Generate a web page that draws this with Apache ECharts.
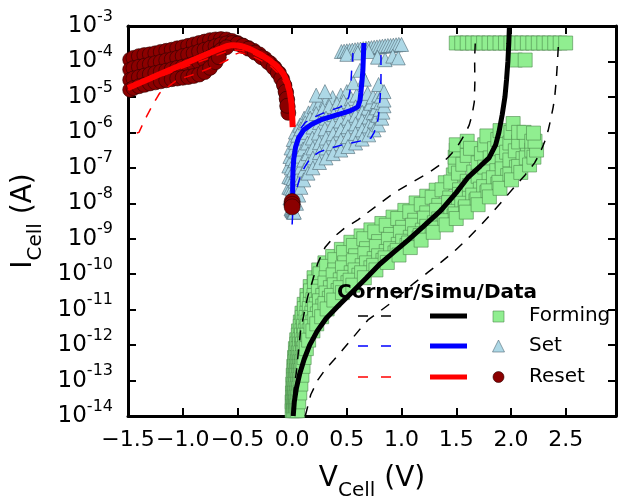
<!DOCTYPE html>
<html><head><meta charset="utf-8">
<script src="https://cdn.jsdelivr.net/npm/echarts@6/dist/echarts.min.js"></script>
<style>html,body{margin:0;padding:0;background:#fff}#c{width:621px;height:496px}</style>
</head><body><div id="c"></div>
<script>
// ---- data: [V_cell (V), log10(I_cell / A)] ----
const xRange = [-1.5, 2.96];
const yExpRange = [-14, -3];
const legendLabels = ['Forming', 'Set', 'Reset'];
const legendTitle = 'Corner/Simu/Data';

const formingTrace1 = [[0.0,-13.85],[0.0,-13.6],[0.003,-13.35],[0.006,-13.1],[0.01,-12.85],[0.015,-12.6],[0.022,-12.35],[0.03,-12.1],[0.042,-11.85],[0.058,-11.6],[0.075,-11.35],[0.09,-11.1],[0.11,-10.85],[0.135,-10.6],[0.165,-10.35],[0.2,-10.1],[0.243,-9.88],[0.3,-9.68],[0.37,-9.5],[0.45,-9.3],[0.537,-9.1],[0.63,-8.92],[0.72,-8.75],[0.82,-8.57],[0.922,-8.39],[1.03,-8.2],[1.133,-7.99],[1.23,-7.8],[1.317,-7.63],[1.4,-7.42],[1.473,-7.2],[1.49,-6.95],[1.49,-6.7],[1.5,-6.5],[1.5,-6.35],[1.6,-6.25]];
const formingTrace1b = [[0.006,-13.72],[0.008,-13.47],[0.012,-13.22],[0.016,-12.97],[0.02,-12.72],[0.026,-12.47],[0.034,-12.22],[0.043,-11.97],[0.056,-11.72],[0.074,-11.47],[0.092,-11.22],[0.112,-10.97],[0.138,-10.72],[0.168,-10.47],[0.205,-10.22],[0.255,-9.99],[0.315,-9.78],[0.39,-9.59],[0.47,-9.39],[0.56,-9.19],[0.655,-9.0],[0.755,-8.81],[0.86,-8.62],[0.965,-8.43],[1.075,-8.24],[1.18,-8.03],[1.28,-7.83],[1.37,-7.62],[1.45,-7.4],[1.52,-7.15],[1.56,-6.9],[1.6,-6.65],[1.63,-6.45]];
const formingTrace2 = [[0.012,-13.85],[0.015,-13.6],[0.02,-13.35],[0.025,-13.1],[0.03,-12.85],[0.037,-12.6],[0.045,-12.35],[0.055,-12.1],[0.07,-11.85],[0.09,-11.6],[0.11,-11.35],[0.135,-11.1],[0.165,-10.85],[0.2,-10.6],[0.25,-10.35],[0.31,-10.1],[0.39,-9.88],[0.48,-9.68],[0.58,-9.48],[0.68,-9.28],[0.79,-9.08],[0.9,-8.88],[1.01,-8.68],[1.12,-8.48],[1.23,-8.27],[1.34,-8.06],[1.44,-7.85],[1.53,-7.62],[1.6,-7.38],[1.66,-7.12],[1.7,-6.86],[1.73,-6.6],[1.76,-6.35],[1.78,-6.1]];
const formingTrace2b = [[0.018,-13.72],[0.022,-13.47],[0.028,-13.22],[0.034,-12.97],[0.04,-12.72],[0.048,-12.47],[0.057,-12.22],[0.07,-11.97],[0.085,-11.72],[0.105,-11.47],[0.127,-11.22],[0.157,-10.97],[0.19,-10.72],[0.24,-10.48],[0.3,-10.25],[0.375,-10.02],[0.46,-9.82],[0.56,-9.62],[0.665,-9.42],[0.77,-9.22],[0.88,-9.02],[0.99,-8.82],[1.1,-8.62],[1.21,-8.42],[1.32,-8.2],[1.43,-7.98],[1.53,-7.75],[1.62,-7.5],[1.7,-7.24],[1.76,-6.98],[1.81,-6.72],[1.85,-6.46],[1.88,-6.2],[1.9,-5.95]];
const formingTrace3 = [[0.025,-13.85],[0.03,-13.6],[0.037,-13.35],[0.045,-13.1],[0.052,-12.85],[0.06,-12.6],[0.07,-12.35],[0.085,-12.1],[0.1,-11.85],[0.12,-11.6],[0.145,-11.35],[0.18,-11.1],[0.22,-10.85],[0.28,-10.6],[0.35,-10.38],[0.44,-10.16],[0.54,-9.96],[0.64,-9.76],[0.75,-9.56],[0.86,-9.36],[0.97,-9.16],[1.08,-8.96],[1.19,-8.76],[1.3,-8.55],[1.41,-8.33],[1.52,-8.1],[1.62,-7.86],[1.72,-7.6],[1.8,-7.34],[1.87,-7.08],[1.92,-6.82],[1.96,-6.56],[1.99,-6.3],[2.0,-6.0],[2.02,-5.75]];
const formingTrace3b = [[0.031,-13.72],[0.037,-13.47],[0.045,-13.22],[0.053,-12.97],[0.061,-12.72],[0.07,-12.47],[0.08,-12.22],[0.095,-11.97],[0.112,-11.72],[0.137,-11.47],[0.167,-11.22],[0.205,-10.98],[0.25,-10.75],[0.31,-10.53],[0.385,-10.3],[0.475,-10.09],[0.575,-9.88],[0.68,-9.68],[0.79,-9.48],[0.9,-9.28],[1.01,-9.07],[1.12,-8.86],[1.23,-8.65],[1.34,-8.44],[1.45,-8.23],[1.55,-8.0],[1.65,-7.77],[1.75,-7.53],[1.84,-7.28],[1.92,-7.03],[1.99,-6.78],[2.04,-6.52],[2.07,-6.27],[2.07,-6.0]];
const formingTrace4 = [[0.037,-13.85],[0.045,-13.6],[0.053,-13.35],[0.062,-13.1],[0.07,-12.85],[0.08,-12.6],[0.09,-12.35],[0.105,-12.1],[0.125,-11.85],[0.155,-11.6],[0.19,-11.35],[0.23,-11.12],[0.28,-10.9],[0.34,-10.68],[0.42,-10.46],[0.51,-10.24],[0.61,-10.03],[0.72,-9.82],[0.83,-9.61],[0.94,-9.4],[1.05,-9.19],[1.16,-8.98],[1.27,-8.77],[1.38,-8.56],[1.48,-8.36],[1.58,-8.15],[1.68,-7.93],[1.78,-7.7],[1.88,-7.46],[1.97,-7.22],[2.05,-6.98],[2.11,-6.74],[2.15,-6.5],[2.14,-6.25],[2.12,-6.0]];
const formingTrace4b = [[0.043,-13.72],[0.052,-13.47],[0.061,-13.22],[0.071,-12.97],[0.08,-12.72],[0.09,-12.47],[0.1,-12.22],[0.117,-11.97],[0.138,-11.72],[0.172,-11.48],[0.207,-11.25],[0.25,-11.04],[0.3,-10.83],[0.36,-10.6],[0.44,-10.38],[0.53,-10.17],[0.635,-9.96],[0.745,-9.75],[0.85,-9.54],[0.96,-9.33],[1.065,-9.12],[1.17,-8.91],[1.28,-8.7],[1.395,-8.49],[1.49,-8.3],[1.585,-8.1],[1.69,-7.88],[1.79,-7.65],[1.89,-7.41],[1.99,-7.18],[2.07,-6.96],[2.14,-6.72],[2.19,-6.5],[2.19,-6.25]];
const formingTrace5 = [[0.05,-13.85],[0.06,-13.6],[0.07,-13.35],[0.08,-13.1],[0.09,-12.85],[0.1,-12.6],[0.11,-12.35],[0.13,-12.1],[0.151,-11.86],[0.19,-11.6],[0.225,-11.4],[0.27,-11.2],[0.32,-10.98],[0.381,-10.73],[0.46,-10.52],[0.555,-10.31],[0.66,-10.1],[0.766,-9.88],[0.87,-9.67],[0.977,-9.46],[1.08,-9.25],[1.179,-9.04],[1.29,-8.82],[1.408,-8.61],[1.5,-8.43],[1.592,-8.25],[1.7,-8.04],[1.803,-7.82],[1.9,-7.58],[2.005,-7.34],[2.09,-7.13],[2.17,-6.92],[2.21,-6.7],[2.234,-6.5],[2.22,-6.25],[2.206,-6.02]];
const formingTop = [[1.5,-3.48],[1.55,-3.48],[1.6,-3.48],[1.65,-3.48],[1.7,-3.48],[1.75,-3.48],[1.8,-3.48],[1.85,-3.48],[1.9,-3.48],[1.95,-3.48],[2.0,-3.48],[2.05,-3.48],[2.1,-3.48],[2.15,-3.48],[2.2,-3.48],[2.25,-3.48],[2.3,-3.48],[2.35,-3.48],[2.4,-3.48],[2.45,-3.48],[2.5,-3.48],[2.04,-3.96],[2.13,-3.96]];

const setTrace1 = [[-0.01,-8.15],[-0.02,-7.85],[-0.03,-7.55],[-0.03,-7.25],[-0.03,-6.95],[-0.02,-6.68],[-0.01,-6.44],[0.01,-6.2],[0.03,-5.99],[0.07,-5.8],[0.11,-5.6],[0.15,-5.45],[0.2,-5.28],[0.25,-5.18],[0.31,-5.09],[0.37,-5.02],[0.445,-4.95],[0.5,-4.85]];
const setTrace1b = [[-0.005,-8.17],[-0.01,-7.87],[-0.015,-7.57],[-0.012,-7.27],[-0.008,-7.0],[0.0,-6.74],[0.012,-6.5],[0.03,-6.28],[0.05,-6.08],[0.08,-5.9],[0.12,-5.73],[0.165,-5.6],[0.22,-5.47],[0.28,-5.36],[0.34,-5.27],[0.41,-5.2],[0.47,-5.13],[0.54,-5.05],[0.59,-4.95]];
const setTrace2 = [[0.0,-8.2],[0.0,-7.9],[0.0,-7.6],[0.01,-7.3],[0.014,-7.06],[0.025,-6.8],[0.04,-6.55],[0.065,-6.35],[0.096,-6.16],[0.14,-6.0],[0.19,-5.85],[0.25,-5.72],[0.31,-5.6],[0.38,-5.5],[0.445,-5.43],[0.51,-5.35],[0.58,-5.28],[0.63,-5.18],[0.67,-5.09],[0.69,-4.9]];
const setTrace2b = [[0.005,-8.22],[0.01,-7.92],[0.015,-7.64],[0.025,-7.37],[0.035,-7.13],[0.05,-6.89],[0.07,-6.67],[0.1,-6.47],[0.14,-6.3],[0.185,-6.16],[0.24,-6.02],[0.3,-5.9],[0.37,-5.78],[0.44,-5.68],[0.51,-5.6],[0.58,-5.52],[0.64,-5.43],[0.69,-5.32],[0.72,-5.18],[0.74,-5.0]];
const setTrace3 = [[0.01,-8.25],[0.02,-7.95],[0.03,-7.68],[0.045,-7.44],[0.06,-7.2],[0.08,-6.98],[0.106,-6.78],[0.145,-6.6],[0.19,-6.44],[0.25,-6.29],[0.31,-6.16],[0.375,-6.04],[0.445,-5.93],[0.51,-5.84],[0.58,-5.76],[0.64,-5.67],[0.7,-5.57],[0.74,-5.45],[0.77,-5.31],[0.78,-5.13],[0.79,-4.95]];
const setTrace3b = [[0.015,-8.25],[0.03,-7.98],[0.045,-7.72],[0.062,-7.5],[0.083,-7.27],[0.11,-7.06],[0.145,-6.88],[0.19,-6.72],[0.25,-6.57],[0.31,-6.44],[0.375,-6.32],[0.445,-6.22],[0.51,-6.12],[0.58,-6.03],[0.64,-5.93],[0.7,-5.82],[0.75,-5.68],[0.785,-5.52],[0.805,-5.35],[0.81,-5.15],[0.815,-4.98]];
const setTrace4 = [[0.02,-8.25],[0.04,-8.0],[0.06,-7.77],[0.08,-7.55],[0.106,-7.34],[0.145,-7.15],[0.19,-7.0],[0.25,-6.85],[0.31,-6.72],[0.375,-6.6],[0.445,-6.5],[0.51,-6.4],[0.58,-6.3],[0.64,-6.19],[0.7,-6.07],[0.75,-5.93],[0.79,-5.79],[0.82,-5.6],[0.83,-5.43],[0.84,-5.25],[0.84,-5.09]];
const setTop = [[0.45,-3.72],[0.475,-3.71],[0.5,-3.7],[0.525,-3.69],[0.55,-3.68],[0.575,-3.67],[0.6,-3.66],[0.625,-3.65],[0.65,-3.64],[0.675,-3.63],[0.7,-3.62],[0.725,-3.61],[0.75,-3.6],[0.775,-3.59],[0.8,-3.58],[0.825,-3.57],[0.85,-3.56],[0.875,-3.55],[0.9,-3.55],[0.925,-3.54],[0.95,-3.53],[0.975,-3.52],[1.0,-3.52],[0.5,-3.8],[0.6,-3.76],[0.7,-3.72],[0.78,-3.88],[0.85,-3.95],[0.92,-3.85],[0.97,-3.9],[0.22,-4.95],[0.3,-4.85],[0.56,-4.6],[0.62,-4.25],[0.66,-4.5],[0.79,-4.65],[0.84,-4.85]];

const resetTrace1 = [[-1.48,-3.95],[-1.45,-3.9],[-1.4,-3.85],[-1.35,-3.82],[-1.3,-3.8],[-1.25,-3.77],[-1.2,-3.73],[-1.15,-3.7],[-1.1,-3.67],[-1.05,-3.63],[-1.0,-3.6],[-0.95,-3.56],[-0.9,-3.52],[-0.85,-3.48],[-0.8,-3.44],[-0.75,-3.4],[-0.7,-3.38],[-0.65,-3.37],[-0.6,-3.38],[-0.55,-3.42],[-0.5,-3.48],[-0.45,-3.55],[-0.4,-3.62],[-0.35,-3.7],[-0.3,-3.8],[-0.25,-3.92],[-0.2,-4.05],[-0.16,-4.18],[-0.12,-4.33],[-0.09,-4.5],[-0.07,-4.68],[-0.055,-4.88],[-0.045,-5.08],[-0.04,-5.28],[-0.035,-5.45]];
const resetTrace2 = [[-1.48,-4.23],[-1.45,-4.19],[-1.4,-4.15],[-1.35,-4.12],[-1.3,-4.08],[-1.25,-4.05],[-1.2,-4.01],[-1.15,-3.97],[-1.1,-3.94],[-1.05,-3.9],[-1.0,-3.85],[-0.95,-3.81],[-0.9,-3.77],[-0.85,-3.72],[-0.8,-3.67],[-0.75,-3.62],[-0.7,-3.57],[-0.65,-3.52],[-0.6,-3.49],[-0.55,-3.48],[-0.5,-3.5],[-0.45,-3.56],[-0.4,-3.64],[-0.34,-3.75],[-0.28,-3.88],[-0.22,-4.02],[-0.17,-4.17],[-0.13,-4.32],[-0.1,-4.48],[-0.075,-4.66],[-0.06,-4.85],[-0.05,-5.05],[-0.045,-5.25]];
const resetTrace3 = [[-1.48,-4.52],[-1.45,-4.48],[-1.4,-4.44],[-1.35,-4.4],[-1.3,-4.36],[-1.25,-4.33],[-1.2,-4.29],[-1.15,-4.26],[-1.1,-4.22],[-1.05,-4.18],[-1.0,-4.15],[-0.95,-4.11],[-0.9,-4.07],[-0.85,-4.02],[-0.8,-3.96],[-0.75,-3.88],[-0.7,-3.78],[-0.65,-3.68],[-0.6,-3.6]];
const resetTrace4 = [[-1.48,-4.8],[-1.45,-4.75],[-1.4,-4.7],[-1.35,-4.66],[-1.3,-4.62],[-1.25,-4.59],[-1.2,-4.56],[-1.15,-4.53],[-1.1,-4.5],[-1.05,-4.48],[-1.0,-4.46],[-0.95,-4.44],[-0.9,-4.41],[-0.85,-4.37],[-0.8,-4.3],[-0.75,-4.18],[-0.7,-4.02],[-0.67,-3.88]];
const resetLowCluster = [[0.0,-7.95],[0.0,-8.03],[0.0,-8.1]];

const formingSim = [[0.01,-14.0],[0.02,-13.6],[0.04,-13.2],[0.07,-12.8],[0.11,-12.4],[0.16,-12.0],[0.23,-11.6],[0.31,-11.25],[0.42,-10.9],[0.55,-10.5],[0.68,-10.1],[0.8,-9.72],[0.93,-9.38],[1.06,-9.04],[1.2,-8.65],[1.36,-8.2],[1.5,-7.7],[1.61,-7.26],[1.72,-6.95],[1.8,-6.72],[1.86,-6.35],[1.89,-6.0],[1.92,-5.5],[1.945,-5.0],[1.96,-4.5],[1.972,-4.0],[1.98,-3.5],[1.986,-3.0]];
const formingCornerLow = [[0.0,-14.0],[0.005,-13.75],[0.02,-13.2],[0.041,-12.7],[0.06,-12.1],[0.078,-11.58],[0.11,-11.1],[0.142,-10.64],[0.19,-10.15],[0.234,-9.69],[0.3,-9.25],[0.381,-8.95],[0.48,-8.7],[0.601,-8.47],[0.76,-8.1],[0.931,-7.71],[1.1,-7.4],[1.243,-7.15],[1.35,-6.92],[1.427,-6.7],[1.5,-6.45],[1.546,-6.22],[1.59,-5.98],[1.619,-5.79],[1.645,-5.5],[1.665,-5.14],[1.67,-4.6],[1.668,-3.9],[1.675,-3.39]];
const formingCornerHigh = [[0.12,-14.0],[0.17,-13.4],[0.234,-12.99],[0.3,-12.7],[0.381,-12.42],[0.46,-12.14],[0.537,-11.86],[0.62,-11.55],[0.693,-11.29],[0.8,-11.05],[0.904,-10.81],[1.0,-10.55],[1.115,-10.25],[1.24,-9.95],[1.362,-9.66],[1.49,-9.33],[1.61,-8.98],[1.73,-8.6],[1.849,-8.19],[1.94,-7.87],[2.032,-7.54],[2.13,-7.2],[2.216,-6.86],[2.27,-6.55],[2.307,-6.27],[2.34,-5.95],[2.362,-5.65],[2.385,-5.3],[2.399,-5.03],[2.415,-4.5],[2.427,-3.9],[2.436,-3.39]];

const setSim = [[0.005,-8.05],[0.005,-7.49],[0.008,-7.06],[0.015,-6.75],[0.032,-6.41],[0.06,-6.15],[0.106,-5.93],[0.18,-5.77],[0.261,-5.65],[0.37,-5.54],[0.472,-5.45],[0.54,-5.38],[0.601,-5.28],[0.62,-5.1],[0.628,-4.89],[0.64,-4.5],[0.647,-4.24],[0.652,-3.8],[0.656,-3.48]];
const setCornerLow = [[0.0,-8.0],[0.005,-7.5],[0.014,-6.78],[0.03,-6.35],[0.05,-6.07],[0.08,-5.88],[0.124,-5.71],[0.2,-5.57],[0.289,-5.45],[0.37,-5.36],[0.445,-5.28],[0.49,-5.18],[0.518,-5.0],[0.53,-4.8],[0.537,-4.61],[0.545,-4.2],[0.555,-3.87],[0.555,-3.76]];
const setCornerHigh = [[0.0,-8.6],[0.005,-8.3],[0.015,-8.0],[0.032,-7.77],[0.05,-7.5],[0.078,-7.2],[0.12,-6.95],[0.17,-6.72],[0.25,-6.55],[0.353,-6.44],[0.45,-6.36],[0.537,-6.3],[0.63,-6.24],[0.72,-6.16],[0.75,-6.0],[0.775,-5.79],[0.79,-5.55],[0.794,-5.37],[0.805,-5.0],[0.812,-4.52],[0.812,-3.96],[0.812,-3.76]];

const resetSim = [[-1.5,-4.75],[-1.2,-4.35],[-0.9,-3.95],[-0.7,-3.69],[-0.6,-3.57],[-0.55,-3.54],[-0.5,-3.55],[-0.45,-3.58],[-0.38,-3.66],[-0.29,-3.8],[-0.2,-3.98],[-0.13,-4.16],[-0.08,-4.35],[-0.041,-4.61],[-0.02,-4.89],[-0.005,-5.2],[0.0,-5.5],[0.005,-5.85]];
const resetCornerLow = [[-1.42,-6.02],[-1.4,-6.0],[-1.37,-5.8],[-1.33,-5.55],[-1.27,-5.2],[-1.21,-4.89],[-1.12,-4.68],[-1.05,-4.52],[-0.95,-4.42],[-0.84,-4.3],[-0.7,-4.12],[-0.59,-3.96],[-0.54,-3.82],[-0.48,-3.75],[-0.4,-3.8],[-0.3,-3.95],[-0.2,-4.12],[-0.12,-4.35],[-0.06,-4.65],[-0.03,-5.0],[-0.01,-5.4],[0.0,-5.8]];
const resetCornerHigh = [[-1.5,-4.8],[-1.35,-4.58],[-1.18,-4.4],[-1.0,-4.18],[-0.75,-3.9],[-0.6,-3.72],[-0.52,-3.68],[-0.45,-3.7],[-0.35,-3.8],[-0.25,-3.95],[-0.15,-4.15],[-0.08,-4.4],[-0.04,-4.7],[-0.02,-5.1],[0.0,-5.6]];

// ---- styling ----
const FONT = '"DejaVu Sans", sans-serif';
const GREEN = '#90EE90', LBLUE = '#ADD8E6', DRED = '#8B0000';

function scatter(data, symbol, fill, border, size, z) {
  return { type: 'scatter', data: data, symbol: symbol, symbolSize: size, z: z,
    itemStyle: { color: fill, borderColor: border, borderWidth: 0.6, opacity: 1 },
    emphasis: { disabled: true }, silent: true };
}
function line(data, color, width, dashed, z) {
  return { type: 'line', data: data, showSymbol: false, symbol: 'none', z: z, smooth: false,
    lineStyle: { color: color, width: width, type: dashed ? [10, 9] : 'solid', cap: 'butt' },
    emphasis: { disabled: true }, silent: true };
}

const axisTick = { show: true, inside: true, length: 8, lineStyle: { color: '#000', width: 2 } };
const axisLine = { show: true, onZero: false, lineStyle: { color: '#000', width: 3 } };

function xLabel(v) {
  const r = Math.round(v * 2);
  if (Math.abs(v * 2 - r) > 1e-6) return '';
  return (v < -1e-9 ? '\u2212' : '') + Math.abs(v).toFixed(1);
}

const option = {
  animation: false,
  backgroundColor: '#fff',
  grid: { left: 128, right: 5, top: 26, bottom: 80, containLabel: false, outerBoundsMode: 'none' },
  xAxis: [
    { type: 'value', position: 'bottom', min: xRange[0], max: xRange[1], interval: 0.5,
      axisLine: axisLine, axisTick: axisTick, splitLine: { show: false },
      axisLabel: { formatter: xLabel, fontFamily: FONT, fontSize: 22, lineHeight: 24, color: '#000', margin: 12, showMinLabel: true, showMaxLabel: false, interval: 0, hideOverlap: false },
      name: '{b|V}{s|Cell}{b| (V)}', nameLocation: 'middle', nameGap: 41,
      nameTextStyle: { fontFamily: FONT, color: '#000', fontSize: 28,
        rich: { b: { fontFamily: FONT, fontSize: 28, lineHeight: 44, color: '#000' },
                s: { fontFamily: FONT, fontSize: 20, lineHeight: 20, verticalAlign: 'bottom', color: '#000' } } } },
    { type: 'value', position: 'top', min: xRange[0], max: xRange[1], interval: 0.5,
      axisLine: axisLine, axisTick: axisTick, splitLine: { show: false }, axisLabel: { show: false } }
  ],
  yAxis: [
    { type: 'value', position: 'left', min: yExpRange[0], max: yExpRange[1], interval: 1,
      axisLine: axisLine, axisTick: axisTick, splitLine: { show: false },
      axisLabel: { formatter: v => '{b|10}{s|' + Math.round(v) + '}', margin: 15, color: '#000', showMinLabel: true, showMaxLabel: true, hideOverlap: false,
        rich: { b: { fontFamily: FONT, fontSize: 23, lineHeight: 35, color: '#000' },
                s: { fontFamily: FONT, fontSize: 16, lineHeight: 16, verticalAlign: 'top', color: '#000' } } },
      name: '{b|I}{s|Cell}{b| (A)}', nameLocation: 'middle', nameGap: 82, nameRotate: 90,
      nameTextStyle: { fontFamily: FONT, color: '#000', fontSize: 28,
        rich: { b: { fontFamily: FONT, fontSize: 28, lineHeight: 44, color: '#000' },
                s: { fontFamily: FONT, fontSize: 20, lineHeight: 20, verticalAlign: 'bottom', color: '#000' } } } },
    { type: 'value', position: 'right', min: yExpRange[0], max: yExpRange[1], interval: 1,
      axisLine: axisLine, axisTick: axisTick, splitLine: { show: false }, axisLabel: { show: false } }
  ],
  series: [
    scatter(formingTrace1.concat(formingTrace1b, formingTrace2, formingTrace2b, formingTrace3, formingTrace3b, formingTrace4, formingTrace4b, formingTrace5, formingTop), 'rect', GREEN, '#4e8a4e', 14, 2),
    scatter(setTrace1.concat(setTrace1b, setTrace2, setTrace2b, setTrace3, setTrace3b, setTrace4, setTop), 'triangle', LBLUE, '#506a75', 14, 2),
    scatter(resetTrace1.concat(resetTrace2, resetTrace3, resetTrace4), 'circle', DRED, '#2a0000', 15, 2),
    line(formingCornerLow, '#000', 1.5, true, 3),
    line(formingCornerHigh, '#000', 1.5, true, 3),
    line(formingSim, '#000', 5, false, 3),
    line(setCornerLow, '#0000ff', 1.5, true, 3),
    line(setCornerHigh, '#0000ff', 1.5, true, 3),
    line(setSim, '#0000ff', 5, false, 3),
    line(resetCornerLow, '#ff0000', 1.5, true, 3),
    line(resetCornerHigh, '#ff0000', 1.5, true, 3),
    line(resetSim, '#ff0000', 6, false, 3),
    scatter(resetLowCluster, 'circle', DRED, '#2a0000', 16, 4)
  ],
  graphic: [
    { type: 'text', z: 10, style: { x: 337, y: 293, text: legendTitle, fontFamily: FONT, fontWeight: 'bold', fontSize: 20, fill: '#000', align: 'left', verticalAlign: 'middle' } },
    { type: 'line', z: 10, shape: { x1: 358, y1: 316, x2: 391, y2: 316 }, style: { stroke: '#000', lineWidth: 1.5, lineDash: [10, 13] } },
    { type: 'line', z: 10, shape: { x1: 358, y1: 346, x2: 391, y2: 346 }, style: { stroke: '#0000ff', lineWidth: 1.5, lineDash: [10, 13] } },
    { type: 'line', z: 10, shape: { x1: 358, y1: 377, x2: 391, y2: 377 }, style: { stroke: '#ff0000', lineWidth: 1.5, lineDash: [10, 13] } },
    { type: 'line', z: 10, shape: { x1: 430, y1: 316, x2: 467, y2: 316 }, style: { stroke: '#000', lineWidth: 5 } },
    { type: 'line', z: 10, shape: { x1: 430, y1: 346, x2: 467, y2: 346 }, style: { stroke: '#0000ff', lineWidth: 5 } },
    { type: 'line', z: 10, shape: { x1: 430, y1: 377, x2: 467, y2: 377 }, style: { stroke: '#ff0000', lineWidth: 5 } },
    { type: 'rect', z: 10, shape: { x: 493, y: 311, width: 11, height: 11 }, style: { fill: GREEN, stroke: '#4e8a4e', lineWidth: 0.6 } },
    { type: 'polygon', z: 10, shape: { points: [[498.5, 340], [504.5, 352], [492.5, 352]] }, style: { fill: LBLUE, stroke: '#506a75', lineWidth: 0.6 } },
    { type: 'circle', z: 10, shape: { cx: 498.5, cy: 377, r: 5.5 }, style: { fill: DRED, stroke: '#2a0000', lineWidth: 0.6 } },
    { type: 'text', z: 10, style: { x: 529, y: 316, text: legendLabels[0], fontFamily: FONT, fontSize: 20, fill: '#000', verticalAlign: 'middle' } },
    { type: 'text', z: 10, style: { x: 529, y: 346, text: legendLabels[1], fontFamily: FONT, fontSize: 20, fill: '#000', verticalAlign: 'middle' } },
    { type: 'text', z: 10, style: { x: 529, y: 377, text: legendLabels[2], fontFamily: FONT, fontSize: 20, fill: '#000', verticalAlign: 'middle' } }
  ]
};
const chart = echarts.init(document.getElementById('c'), null, { renderer: 'canvas' });
chart.setOption(option);
</script>
</body></html>
